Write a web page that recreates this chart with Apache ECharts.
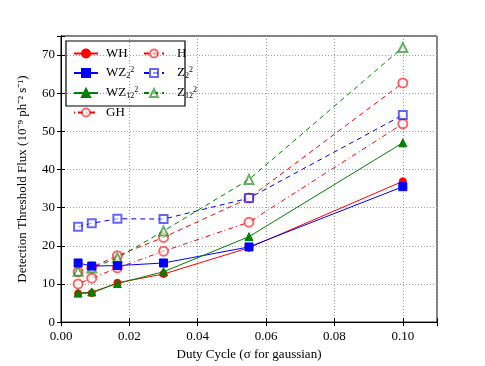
<!DOCTYPE html>
<html>
<head>
<meta charset="utf-8">
<script src="https://cdn.jsdelivr.net/npm/echarts@6/dist/echarts.min.js"></script>
<style>
  html, body { margin: 0; padding: 0; background: #fff; }
  #chart { width: 485px; height: 366px; }
</style>
</head>
<body>
<div id="chart"></div>
<script>
// duty cycle values (x)
var duty = [0.005, 0.009, 0.0165, 0.03, 0.055, 0.10]

// threshold flux per method
var wh = [7.5, 7.6, 10.3, 12.6, 19.5, 36.9]
var wz2 = [15.5, 14.7, 14.8, 15.5, 19.7, 35.5]
var wz12 = [7.6, 7.9, 10.1, 13.2, 22.4, 47.0]
var gh = [10.0, 11.5, 14.2, 18.6, 26.2, 52.0]
var h = [13.2, 14.4, 17.4, 22.2, 32.5, 62.7]
var z2 = [25.0, 25.9, 27.1, 27.0, 32.5, 54.3]
var z12 = [13.3, 14.2, 16.8, 23.9, 37.4, 72.0]

var xTicks = ['0.00', '0.02', '0.04', '0.06', '0.08', '0.10']
var yTicks = ['0', '10', '20', '30', '40', '50', '60', '70']

var serif = 'Liberation Serif'
var RED = '#ff0000'
var BLUE = '#0000ff'
var GREEN = '#008000'

function pairs(ys) {
  return duty.map(function(x, i) { return [x, ys[i]] })
}

var rich = {
  n: { fontFamily: serif, fontSize: 13, color: '#000' },
  sp: { fontFamily: serif, fontSize: 8, color: '#000', verticalAlign: 'top', padding: [0, 0, 6, 0] },
  sb: { fontFamily: serif, fontSize: 8, color: '#000', verticalAlign: 'bottom', padding: [6, 0, 0, 0] }
}
var labels = {
  'WH': '{n|WH}',
  'WZ2': '{n|WZ}{sb|2}{sp|2}',
  'WZ12': '{n|WZ}{sb|12}{sp|2}',
  'GH': '{n|GH}',
  'H': '{n|H}',
  'Z2': '{n|Z}{sb|2}{sp|2}',
  'Z12': '{n|Z}{sb|12}{sp|2}'
}

function line(name, ys, color, symbol, dash, size, filled) {
  return {
    name: name,
    type: 'line',
    data: pairs(ys),
    symbol: symbol,
    symbolSize: size,
    showSymbol: true,
    z: filled ? 3 : 2,
    lineStyle: { color: color, width: 1, type: dash },
    itemStyle: {
      color: color,
      borderColor: color,
      borderWidth: 1,
      opacity: filled ? 1 : 0.6
    },
    emphasis: { disabled: true },
    animation: false
  }
}

var chart = echarts.init(document.getElementById('chart'))

chart.setOption({
  backgroundColor: '#fff',
  textStyle: { fontFamily: serif },
  grid: { left: 61, right: 48, top: 36, bottom: 38, show: true, borderColor: '#000', borderWidth: 1 },
  legend: [
    {
      data: ['WH', 'WZ2', 'WZ12', 'GH'],
      orient: 'vertical',
      left: 68, top: 42,
      itemWidth: 24, itemHeight: 10, itemGap: 6,
      formatter: function(n) { return labels[n] },
      textStyle: { rich: rich, padding: [0, 0, 0, 3] }
    },
    {
      data: ['H', 'Z2', 'Z12'],
      orient: 'vertical',
      left: 138, top: 42,
      itemWidth: 20, itemHeight: 10, itemGap: 6,
      formatter: function(n) { return labels[n] },
      textStyle: { rich: rich, padding: [0, 0, 0, 8] }
    }
  ],
  graphic: [{
    type: 'rect',
    shape: { x: 66, y: 41, width: 119, height: 65 },
    style: { fill: 'none', stroke: '#000', lineWidth: 1.2 },
    z: 100
  }],
  xAxis: [{
    type: 'value',
    min: 0, max: 0.11, interval: 0.02,
    name: 'Duty Cycle (σ for gaussian)',
    nameLocation: 'middle',
    nameGap: 24,
    nameTextStyle: { fontFamily: serif, fontSize: 13, color: '#000' },
    axisLine: { show: true, lineStyle: { color: '#000' } },
    axisTick: { inside: true, length: 4, lineStyle: { color: '#000' } },
    axisLabel: {
      fontFamily: serif, fontSize: 13, color: '#000', margin: 8,
      formatter: function(v) {
        var i = Math.round(v / 0.02)
        return Math.abs(v - i * 0.02) < 1e-9 ? xTicks[i] : ''
      }
    },
    splitLine: { show: true, lineStyle: { color: '#999', type: [1, 2] } }
  }, {
    type: 'value', position: 'top',
    min: 0, max: 0.11, interval: 0.02,
    axisLine: { show: true, lineStyle: { color: '#000' } },
    axisTick: { inside: true, length: 4, lineStyle: { color: '#000' } },
    axisLabel: { show: false },
    splitLine: { show: false }
  }],
  yAxis: [{
    type: 'value',
    min: 0, max: 75, interval: 10,
    name: 'Detection Threshold Flux (10⁻⁹ ph⁻² s⁻¹)',
    nameLocation: 'middle',
    nameGap: 32,
    nameTextStyle: { fontFamily: serif, fontSize: 13, color: '#000' },
    axisLine: { show: true, lineStyle: { color: '#000' } },
    axisTick: { inside: true, length: 4, lineStyle: { color: '#000' } },
    axisLabel: {
      fontFamily: serif, fontSize: 13, color: '#000', margin: 6,
      formatter: function(v) {
        var i = Math.round(v / 10)
        return Math.abs(v - i * 10) < 1e-9 && yTicks[i] ? yTicks[i] : ''
      }
    },
    splitLine: { show: true, lineStyle: { color: '#999', type: [1, 2] } }
  }, {
    type: 'value', position: 'right',
    min: 0, max: 75, interval: 10,
    axisLine: { show: true, lineStyle: { color: '#000' } },
    axisTick: { inside: true, length: 4, lineStyle: { color: '#000' } },
    axisLabel: { show: false },
    splitLine: { show: false }
  }],
  series: [
    line('WH', wh, RED, 'circle', 'solid', 7, true),
    line('WZ2', wz2, BLUE, 'rect', 'solid', 8, true),
    line('WZ12', wz12, GREEN, 'triangle', 'solid', 8, true),
    line('GH', gh, RED, 'emptyCircle', [1, 3, 5, 3], 9, false),
    line('H', h, RED, 'emptyCircle', [5, 4], 9, false),
    line('Z2', z2, BLUE, 'emptyRect', [5, 4], 8, false),
    line('Z12', z12, GREEN, 'emptyTriangle', [5, 4], 9, false)
  ]
})
</script>
</body>
</html>
